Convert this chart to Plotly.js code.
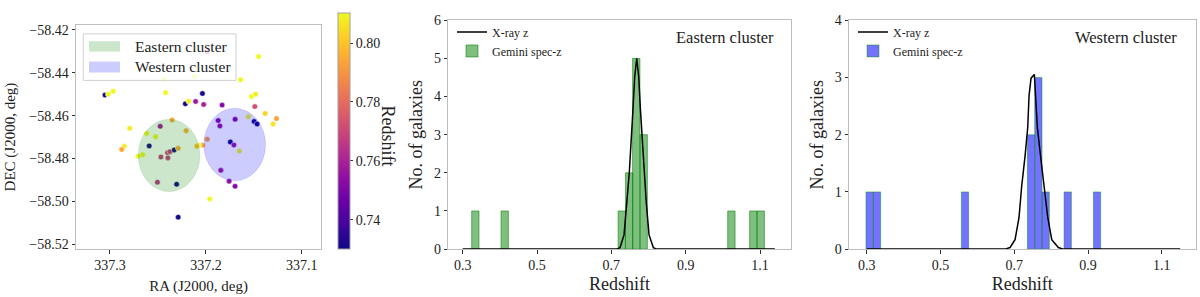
<!DOCTYPE html>
<html>
<head>
<meta charset="utf-8">
<script src="https://cdn.plot.ly/plotly-3.0.1.min.js"></script>
<style>html,body{margin:0;padding:0;background:#fff;}#chart{width:1200px;height:297px;}</style>
</head>
<body>
<div id="chart"></div>
<script>
// ---------------- DATA ----------------
// Panel 1: galaxies (RA, DEC, redshift)
const galRA = [337.3052, 337.3018, 337.2966, 337.2420, 337.2434, 337.2122, 337.1986, 337.2036, 337.2214, 337.2180,
  337.2107, 337.2023, 337.1831, 337.1639, 337.1451, 337.1524, 337.1482, 337.1490, 337.1383, 337.1264,
  337.1300, 337.1497, 337.1466, 337.1557, 337.1695, 337.1872, 337.1854, 337.1745, 337.1708, 337.1651,
  337.1986, 337.2034, 337.2075, 337.2094, 337.1844, 337.1758, 337.1696, 337.1960, 337.2289, 337.2305,
  337.2505, 337.2794, 337.2851, 337.2878, 337.2706, 337.2659, 337.2618, 337.2524, 337.2591, 337.2476,
  337.2352, 337.2206, 337.2469, 337.2399, 337.2375, 337.2396, 337.2330, 337.2289];
const galDEC = [-58.4504, -58.4500, -58.4486, -58.4493, -58.4429, -58.4418, -58.4303, -58.4497, -58.4545, -58.4533,
  -58.4534, -58.4548, -58.4551, -58.4433, -58.4325, -58.4511, -58.4500, -58.4558, -58.4590, -58.4614,
  -58.4639, -58.4627, -58.4639, -58.4605, -58.4617, -58.4623, -58.4648, -58.4723, -58.4737, -58.4765,
  -58.4710, -58.4738, -58.4738, -58.4743, -58.4855, -58.4906, -58.4929, -58.4988, -58.5073, -58.4920,
  -58.4910, -58.4659, -58.4743, -58.4758, -58.4789, -58.4782, -58.4683, -58.4698, -58.4741, -58.4650,
  -58.4620, -58.4670, -58.4793, -58.4773, -58.4768, -58.4797, -58.4760, -58.4752];
const galZ = [0.731, 0.81, 0.81, 0.81, 0.81, 0.81, 0.765, 0.731, 0.731, 0.808,
  0.757, 0.76, 0.752, 0.81, 0.81, 0.81, 0.808, 0.772, 0.803, 0.793,
  0.806, 0.731, 0.731, 0.81, 0.752, 0.752, 0.755, 0.731, 0.757, 0.81,
  0.793, 0.795, 0.808, 0.80, 0.758, 0.755, 0.752, 0.81, 0.731, 0.731,
  0.765, 0.808, 0.808, 0.795, 0.81, 0.81, 0.81, 0.81, 0.731, 0.758,
  0.795, 0.797, 0.768, 0.768, 0.768, 0.768, 0.731, 0.795];

// Cluster regions (RA range, DEC range)
const eastRegionRA = [337.2705, 337.2063];
const eastRegionDEC = [-58.4617, -58.4954];
const westRegionRA = [337.2021, 337.1378];
const westRegionDEC = [-58.4566, -58.4904];
const clusterNames = ["Eastern cluster", "Western cluster"];

// Panel 2: Eastern cluster histogram
const eastBinCenters = [0.334, 0.413, 0.728, 0.748, 0.767, 0.787, 1.023, 1.082, 1.102];
const eastCounts = [1, 1, 1, 2, 5, 3, 1, 1, 1];
const eastBinWidth = 0.0197;
const eastXrayZ = [0.30, 0.7144, 0.7233, 0.7341, 0.7413, 0.7484, 0.7583, 0.7628, 0.7683, 0.7736, 0.778, 0.7879, 0.7941, 0.8014, 0.813, 0.822, 1.14];
const eastXrayN = [0, 0, 0.04, 0.373, 1.2, 2.03, 3.69, 4.52, 5.0, 4.52, 3.69, 2.03, 1.2, 0.373, 0.04, 0, 0];

// Panel 3: Western cluster histogram
const westBinCenters = [0.308, 0.328, 0.5665, 0.7455, 0.7654, 0.7853, 0.845, 0.9245];
const westCounts = [1, 1, 1, 2, 3, 1, 1, 1];
const westBinWidth = 0.0199;
const westXrayZ = [0.30, 0.675, 0.6887, 0.7022, 0.7130, 0.7203, 0.7294, 0.7366, 0.7402, 0.7456, 0.7545, 0.7583, 0.7627, 0.7713, 0.7816, 0.7909, 0.8017, 0.8196, 0.833, 1.15];
const westXrayN = [0, 0, 0.028, 0.166, 0.553, 1.107, 1.63, 2.129, 2.684, 2.988, 3.054, 2.684, 2.129, 1.63, 1.107, 0.553, 0.166, 0.028, 0, 0];

const zTicks = [0.3, 0.5, 0.7, 0.9, 1.1];
const raTicks = [337.3, 337.2, 337.1];
const decTicks = [-58.42, -58.44, -58.46, -58.48, -58.50, -58.52];
const cbTicks = [0.74, 0.76, 0.78, 0.80];

// ---------------- STYLE / LAYOUT HELPERS ----------------
const plasma = [[0.0, '#0d0887'], [0.1, '#41049d'], [0.2, '#6a00a8'], [0.3, '#8f0da4'], [0.4, '#b12a90'],
  [0.5, '#cc4778'], [0.6, '#e16462'], [0.7, '#f2844b'], [0.8, '#fca636'], [0.9, '#fcce25'], [1.0, '#f0f921']];
const W = 1200, H = 297;
const fx = p => p / W;
const fy = p => 1 - p / H;
const FONT = "Liberation Serif, Times New Roman, serif";
const frame = {showline: true, mirror: true, linecolor: '#bdbdbd', linewidth: 1, ticks: 'outside', ticklen: 3.5, tickcolor: '#333', tickwidth: 1, showgrid: false, zeroline: false, automargin: true};

const traces = [
  {type: 'scatter', mode: 'markers', x: galRA, y: galDEC, xaxis: 'x', yaxis: 'y', showlegend: false,
   marker: {color: galZ, colorscale: plasma, cmin: 0.730, cmax: 0.8102, size: 5.5, line: {color: '#fff', width: 0.5},
     colorbar: {thickness: 11.5, thicknessmode: 'pixels', len: 236, lenmode: 'pixels', x: fx(337.7), xanchor: 'left', xpad: 0,
       y: fy(255), yanchor: 'bottom', ypad: 0, outlinecolor: '#a0a0a0', outlinewidth: 1, ticks: 'outside', ticklen: 3,
       tickcolor: '#333', tickvals: cbTicks, tickformat: '.2f', tickfont: {size: 14, family: FONT, color: '#222'}}}},
  {type: 'bar', x: eastBinCenters, y: eastCounts, width: eastBinWidth, xaxis: 'x2', yaxis: 'y2', name: 'Gemini spec-z', legend: 'legend2', legendrank: 2,
   marker: {color: 'rgba(0,128,0,0.5)', line: {color: 'rgba(0,128,0,0.55)', width: 1}}},
  {type: 'scatter', mode: 'lines', x: eastXrayZ, y: eastXrayN, xaxis: 'x2', yaxis: 'y2', name: 'X-ray z', legend: 'legend2', legendrank: 1,
   line: {color: '#000', width: 1.5}},
  {type: 'bar', x: westBinCenters, y: westCounts, width: westBinWidth, xaxis: 'x3', yaxis: 'y3', name: 'Gemini spec-z', legend: 'legend3', legendrank: 2,
   marker: {color: 'rgba(0,0,255,0.55)', line: {color: 'rgba(0,150,0,0.45)', width: 1}}},
  {type: 'scatter', mode: 'lines', x: westXrayZ, y: westXrayN, xaxis: 'x3', yaxis: 'y3', name: 'X-ray z', legend: 'legend3', legendrank: 1,
   line: {color: '#000', width: 1.5}}
];

const legendBase = {bgcolor: 'rgba(0,0,0,0)', borderwidth: 0, font: {size: 12, family: FONT, color: '#222'}, xanchor: 'left', yanchor: 'top', traceorder: 'normal', itemwidth: 30};

const layout = {
  width: W, height: H,
  margin: {l: 0, r: 0, t: 0, b: 0},
  paper_bgcolor: '#fff', plot_bgcolor: '#fff',
  font: {family: FONT, color: '#222', size: 14},
  bargap: 0,
  xaxis: Object.assign({}, frame, {domain: [fx(76), fx(321)], range: [337.3354, 337.0800], tickvals: raTicks, tickformat: '.1f',
    tickfont: {size: 14}, title: {text: 'RA (J2000, deg)', font: {size: 15}, standoff: 8}, anchor: 'y'}),
  yaxis: Object.assign({}, frame, {domain: [fy(255), fy(19)], range: [-58.5222, -58.4178], tickvals: decTicks, tickformat: '.2f',
    tickfont: {size: 14}, title: {text: 'DEC (J2000, deg)', font: {size: 15}, standoff: 10}, anchor: 'x'}),
  xaxis2: Object.assign({}, frame, {domain: [fx(448.3), fx(790.7)], range: [0.2612, 1.1826], tickvals: zTicks, tickformat: '.1f',
    tickfont: {size: 14}, title: {text: 'Redshift', font: {size: 18}, standoff: 4}, anchor: 'y2'}),
  yaxis2: Object.assign({}, frame, {domain: [fy(255), fy(14)], range: [0, 6], dtick: 1,
    tickfont: {size: 14}, title: {text: 'No. of galaxies', font: {size: 18}, standoff: 6}, anchor: 'x2'}),
  xaxis3: Object.assign({}, frame, {domain: [fx(849), fx(1195.7)], range: [0.252, 1.192], tickvals: zTicks, tickformat: '.1f',
    tickfont: {size: 14}, title: {text: 'Redshift', font: {size: 18}, standoff: 4}, anchor: 'y3'}),
  yaxis3: Object.assign({}, frame, {domain: [fy(255), fy(14)], range: [0, 4], dtick: 1,
    tickfont: {size: 14}, title: {text: 'No. of galaxies', font: {size: 18}, standoff: 6}, anchor: 'x3'}),
  legend2: Object.assign({}, legendBase, {x: fx(452), y: fy(11)}),
  legend3: Object.assign({}, legendBase, {x: fx(853), y: fy(11)}),
  shapes: [
    {type: 'circle', xref: 'x', yref: 'y', x0: eastRegionRA[0], x1: eastRegionRA[1], y0: eastRegionDEC[0], y1: eastRegionDEC[1],
     fillcolor: 'rgba(0,128,0,0.2)', line: {color: 'rgba(0,128,0,0.12)', width: 1}, layer: 'above'},
    {type: 'circle', xref: 'x', yref: 'y', x0: westRegionRA[0], x1: westRegionRA[1], y0: westRegionDEC[0], y1: westRegionDEC[1],
     fillcolor: 'rgba(0,0,255,0.2)', line: {color: 'rgba(0,0,255,0.12)', width: 1}, layer: 'above'},
    // legend box for panel 1
    {type: 'rect', xref: 'paper', yref: 'paper', x0: fx(83.3), x1: fx(236), y0: fy(77.3), y1: fy(28.3),
     fillcolor: 'rgba(255,255,255,0.8)', line: {color: '#d0d0d0', width: 1}, layer: 'above'},
    {type: 'rect', xref: 'paper', yref: 'paper', x0: fx(89), x1: fx(120), y0: fy(47), y1: fy(36),
     fillcolor: 'rgba(0,128,0,0.2)', line: {width: 0}, layer: 'above'},
    {type: 'rect', xref: 'paper', yref: 'paper', x0: fx(89), x1: fx(120), y0: fy(69), y1: fy(57.5),
     fillcolor: 'rgba(0,0,255,0.2)', line: {width: 0}, layer: 'above'}
  ],
  annotations: [
    {xref: 'paper', yref: 'paper', x: fx(133), y: fy(41.5), xanchor: 'left', yanchor: 'middle', showarrow: false,
     text: clusterNames[0], font: {size: 15.5, family: FONT, color: '#222'}},
    {xref: 'paper', yref: 'paper', x: fx(133), y: fy(63), xanchor: 'left', yanchor: 'middle', showarrow: false,
     text: clusterNames[1], font: {size: 15.5, family: FONT, color: '#222'}},
    {xref: 'paper', yref: 'paper', x: fx(388), y: fy(136.5), xanchor: 'center', yanchor: 'middle', showarrow: false, textangle: 90,
     text: 'Redshift', font: {size: 18, family: FONT, color: '#222'}},
    {xref: 'paper', yref: 'paper', x: fx(775.5), y: fy(32), xanchor: 'right', yanchor: 'middle', showarrow: false,
     text: clusterNames[0], font: {size: 16.5, family: FONT, color: '#222'}},
    {xref: 'paper', yref: 'paper', x: fx(1178.5), y: fy(32), xanchor: 'right', yanchor: 'middle', showarrow: false,
     text: clusterNames[1], font: {size: 16.5, family: FONT, color: '#222'}}
  ]
};

Plotly.newPlot('chart', traces, layout, {displayModeBar: false, staticPlot: true});
</script>
</body>
</html>
